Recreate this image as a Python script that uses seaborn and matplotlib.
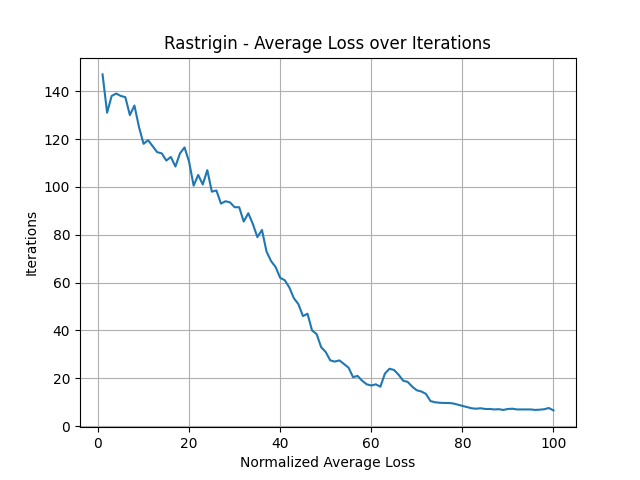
import matplotlib
matplotlib.use("Agg")
import matplotlib.pyplot as plt
import seaborn as sns
import pandas as pd

iterations = list(range(1, 101))
loss = [147, 131, 138, 139, 138, 137.5, 130, 134, 125, 118,
        119.5, 117, 114.5, 114, 111, 112.5, 108.5, 114, 116.5, 110.5,
        100.5, 105, 101, 107, 98, 98.5, 93, 94, 93.5, 91.5,
        91.5, 85.5, 89, 84.5, 79, 82, 73, 69, 66.5, 62,
        61, 58, 53.5, 51, 46, 47, 40, 38.5, 33, 31,
        27.5, 27, 27.5, 26, 24.5, 20.5, 21, 19, 17.5, 17,
        17.5, 16.5, 22, 24, 23.5, 21.5, 19, 18.5, 16.5, 15,
        14.5, 13.5, 10.5, 10, 9.8, 9.7, 9.7, 9.5, 9, 8.5,
        8, 7.5, 7.3, 7.5, 7.2, 7.2, 7, 7.1, 6.8, 7.2,
        7.3, 7, 7, 7, 7, 6.8, 6.9, 7.1, 7.6, 6.6]

df = pd.DataFrame({"x": iterations, "y": loss})
fig, ax = plt.subplots(figsize=(6.4, 4.8), dpi=100)
sns.lineplot(data=df, x="x", y="y", ax=ax, color="#1f77b4")
ax.set_title("Rastrigin - Average Loss over Iterations")
ax.set_xlabel("Normalized Average Loss")
ax.set_ylabel("Iterations")
ax.grid(True, color="#b0b0b0")
ax.set_axisbelow(True)
fig.savefig("out.png")
